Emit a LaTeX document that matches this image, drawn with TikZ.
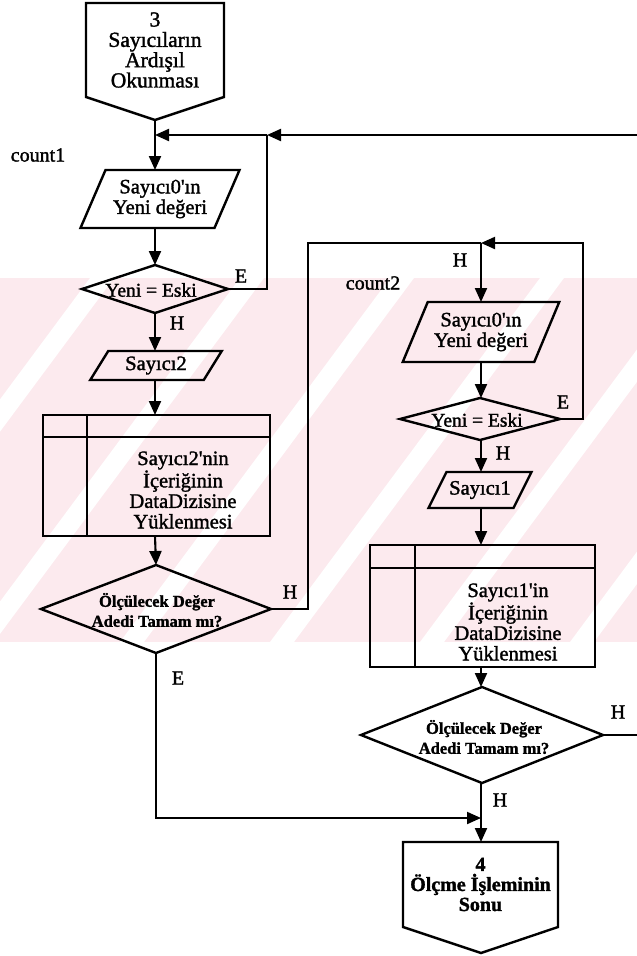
\documentclass[tikz,border=0pt]{standalone}
\usepackage{fontspec}
\setmainfont{Liberation Serif}[FakeBold=1.5]
\usetikzlibrary{arrows.meta,shapes.geometric,calc}
\definecolor{wmpink}{RGB}{252,234,238}

% slanted input/output box drawn round a rectangular body node
\newcommand\slantframe[2]{%
  \draw[shp] ($(#1.north west)+(#2/2,0)$) -- ($(#1.north east)+(#2/2,0)$)
    -- ($(#1.south east)+(-#2/2,0)$) -- ($(#1.south west)+(-#2/2,0)$) -- cycle;}
\newcommand\ap{\textquotesingle}

\begin{document}
\begin{tikzpicture}[x=1pt,y=-1pt,
  shp/.style={draw=black,line width=2.4pt,line join=miter},
  con/.style={draw=black,line width=2.1pt},
  arr/.style={con,-{Triangle[length=14pt,width=12pt]}},
  body/.style={rectangle,inner sep=0pt,outer sep=0pt},
  txt/.style={inner sep=0pt,align=center,font=\fontsize{20.5}{20.5}\selectfont},
  bigtxt/.style={inner sep=0pt,align=center,font=\fontsize{21.5}{20.3}\selectfont},
  small/.style={inner sep=0pt,align=center,font=\fontsize{19.5}{19.5}\selectfont},
  qtxt/.style={inner sep=0pt,align=center,font=\bfseries\fontsize{16.5}{20}\selectfont},
  endtxt/.style={inner sep=0pt,align=center,font=\bfseries\fontsize{20}{20}\selectfont},
  lbl/.style={inner sep=0pt,font=\fontsize{20}{20}\selectfont},
  dia/.style={diamond,shp,inner sep=0pt,outer sep=0pt},
]
\useasboundingbox (0,0) rectangle (637,956);

% background band with diagonal stripes
\begin{scope}
  \clip (0,278) rectangle (637,642);
  \fill[wmpink] (0,278) rectangle (637,642);
  \foreach \s in {-330,-180,...,800} {
    \fill[white] (\s,642) -- (\s+24,642) -- (\s+294,278) -- (\s+270,278) -- cycle;
  }
\end{scope}

% ---------- left column: count1 ----------
\node[body,bigtxt,minimum width=138pt,minimum height=94pt] (S) at (155,50)
  {3\\Sayıcıların\\Ardışıl\\Okunması};
\coordinate (Stip) at (155,120);
\draw[shp] (S.south west) -- (S.north west) -- (S.north east) -- (S.south east) -- (Stip) -- cycle;

\coordinate (J1) at (155,135);
\coordinate (R1) at (267,135);
\coordinate (Rin) at (637,135);
\node[lbl] (c1) at (38,155) {count1};

\node[body,txt,minimum width=134pt,minimum height=58pt] (P1) at (160,199)
  {Sayıcı0\ap ın\\Yeni değeri};
\slantframe{P1}{25}

\node[dia,minimum width=146pt,minimum height=48pt] (D1) at (155,289) {};
\node[small] (D1t) at (151,290) {Yeni = Eski};
\node[lbl] (D1e) at (241,276) {E};
\node[lbl] (D1h) at (177,323) {H};

\node[body,txt,minimum width=113.5pt,minimum height=29pt] (P2) at (156,365.5) {Sayıcı2};
\slantframe{P2}{18}

\node[body,shp,minimum width=227pt,minimum height=121pt] (B1) at (156.5,475.5) {};
\draw[shp] ([yshift=-22pt]B1.north west) -- ([yshift=-22pt]B1.north east);
\draw[shp] ([xshift=44pt]B1.north west) -- ([xshift=44pt]B1.south west);
\node[txt] (B1t) at (183,490) {Sayıcı2\ap nin\\İçeriğinin\\DataDizisine\\Yüklenmesi};

\node[dia,minimum width=230pt,minimum height=88pt] (D2) at (156,609) {};
\node[qtxt] (D2t) at (157,610) {Ölçülecek Değer\\Adedi Tamam mı?};
\node[lbl] (D2h) at (290,592) {H};
\node[lbl] (D2e) at (178,678) {E};

% ---------- right column: count2 ----------
\coordinate (L2) at (308,243);
\coordinate (J2) at (481,243);
\coordinate (R2) at (583,243);
\node[lbl] (c2) at (373,283) {count2};
\node[lbl] (J2h) at (460,260) {H};

\node[body,txt,minimum width=131.5pt,minimum height=60pt] (P3) at (481,332)
  {Sayıcı0\ap ın\\Yeni değeri};
\slantframe{P3}{25}

\node[dia,minimum width=160pt,minimum height=42pt] (D3) at (480,419) {};
\node[small] (D3t) at (477,420) {Yeni = Eski};
\node[lbl] (D3e) at (563,402) {E};
\node[lbl] (D3h) at (503,453) {H};

\node[body,txt,minimum width=85pt,minimum height=36pt] (P4) at (480,490) {Sayıcı1};
\slantframe{P4}{18}

\node[body,shp,minimum width=225pt,minimum height=122pt] (B2) at (482.5,606) {};
\draw[shp] ([yshift=-23pt]B2.north west) -- ([yshift=-23pt]B2.north east);
\draw[shp] ([xshift=45pt]B2.north west) -- ([xshift=45pt]B2.south west);
\node[txt] (B2t) at (508,622) {Sayıcı1\ap in\\İçeriğinin\\DataDizisine\\Yüklenmesi};

\node[dia,minimum width=242pt,minimum height=96pt] (D4) at (482,735) {};
\node[qtxt] (D4t) at (484,737) {Ölçülecek Değer\\Adedi Tamam mı?};
\node[lbl] (D4hr) at (618,712) {H};
\node[lbl] (D4h) at (500,800) {H};

\coordinate (M) at (481,818);

\node[body,endtxt,minimum width=155pt,minimum height=85pt] (End) at (480.5,884.5)
  {4\\Ölçme İşleminin\\Sonu};
\coordinate (Etip) at (481,953);
\draw[shp] (End.south west) -- (End.north west) -- (End.north east) -- (End.south east) -- (Etip) -- cycle;

% ---------- connectors ----------
\draw[con] (Stip) -- (J1);
\draw[arr] (Rin) -- (R1);
\draw[arr] (R1) -- (J1);
\draw[arr] (J1) -- (J1 |- P1.north);
\draw[arr] (J1 |- P1.south) -- (D1.north);
\draw[con] (D1.east) -- (D1.east -| R1) -- (R1);
\draw[arr] (D1.south) -- (D1.south |- P2.north);
\draw[arr] (D1.south |- P2.south) -- (D1.south |- B1.north);
\draw[arr] (D1.south |- B1.south) -- (D2.north);
\draw[con] (D2.east) -- (D2.east -| L2) -- (L2) -- (J2);
\draw[arr] (J2) -- (J2 |- P3.north);
\draw[arr] (J2 |- P3.south) -- (J2 |- D3.north);
\draw[arr] (D3.east) -- (D3.east -| R2) -- (R2) -- (J2);
\draw[arr] (J2 |- D3.south) -- (J2 |- P4.north);
\draw[arr] (J2 |- P4.south) -- (J2 |- B2.north);
\draw[arr] (J2 |- B2.south) -- (J2 |- D4.north);
\draw[con] (D4.east) -- (D4.east -| Rin);
\draw[arr] (D2.south) -- (D2.south |- M) -- (M);
\draw[con] (J2 |- D4.south) -- (M);
\draw[arr] (M) -- (M |- End.north);
\end{tikzpicture}
\end{document}
